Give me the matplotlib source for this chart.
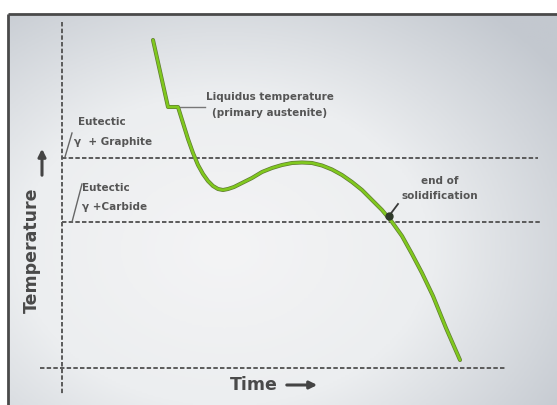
"""
Cooling curve of cast iron: temperature vs time with eutectic levels
"""
import matplotlib
matplotlib.use('Agg')
import matplotlib.pyplot as plt
import matplotlib.patheffects as pe
import numpy as np

plt.rcParams['font.family'] = ['DejaVu Sans']
plt.rcParams['lines.scale_dashes'] = False

# ── data (time / temperature, arbitrary units) ──
time_pts = [91, 106, 116, 121, 126, 131, 136, 141, 146, 151, 156, 161, 166, 172,
            180, 190, 200, 210, 220, 230, 240, 250, 260, 270, 280, 290, 300,
            310, 320, 330, 340, 350, 360, 371, 384, 398]
temp_pts = [328, 261, 261, 245, 229, 215, 203, 194, 187, 182, 179, 178, 179, 181,
            185, 190, 196, 200, 203, 205, 205.5, 205, 202.5, 198.5, 193, 186, 178,
            168, 158, 146, 132, 114, 95, 72, 40, 8]
graphite_level = 210
carbide_level = 146
liquidus_level = 261
solid_end = (327, 152)

W, H = 557, 405
fig = plt.figure(figsize=(W / 100, H / 100), dpi=100)
ax = fig.add_axes([0, 0, 1, 1])
ax.set_xlim(-62, W - 62)
ax.set_ylim(368 - H, 368)
ax.axis('off')

# 背景渐变（中间偏亮，四周灰）
yy, xx = np.mgrid[0:200, 0:280]
r = np.sqrt(((xx - 110) / 210) ** 2 + ((yy - 120) / 160) ** 2)
bg = np.clip(1 - r, 0, 1)
cmap = matplotlib.colors.LinearSegmentedColormap.from_list('bg', ['#c3c8cf', '#eceef0', '#f4f4f5'])
ax.imshow(bg, extent=(8 - 62, W - 62, 368 - H, 368 - 14), cmap=cmap,
          aspect='auto', origin='upper', zorder=0, vmin=0, vmax=1)
# 边框（上、左）
ax.plot([8 - 62, W - 62], [368 - 14, 368 - 14], color='#4a4a4a', lw=2, zorder=1,
        solid_capstyle='butt')
ax.plot([8 - 62, 8 - 62], [368 - 14, 368 - H], color='#4a4a4a', lw=2, zorder=1,
        solid_capstyle='butt')

dash = dict(color='#5a5a5a', lw=1.4, linestyle=(0, (3.2, 1.6)), zorder=2)
ax.plot([0, 0], [346, -27], **dash)
ax.plot([-22, 443], [0, 0], **dash)
ax.plot([0, 476], [graphite_level] * 2, **dash)
ax.plot([0, 478], [carbide_level] * 2, **dash)

# 冷却曲线
ax.plot(time_pts, temp_pts, color='#80c81e', lw=1.9, solid_joinstyle='round',
        solid_capstyle='round', zorder=4,
        path_effects=[pe.Stroke(linewidth=2.9, foreground='#5f7a32'), pe.Normal()])

# 液相线标注
ax.plot([time_pts[2], 143], [liquidus_level] * 2, color='#777777', lw=1, zorder=3)
txt = dict(color='#555555', fontsize=7.5, fontweight='bold')
ax.text(208, 271, 'Liquidus temperature', ha='center', va='center', **txt)
ax.text(208, 255, '(primary austenite)', ha='center', va='center', **txt)

# 共晶标注
ax.plot([3, 10], [graphite_level + 1, 235], color='#666666', lw=1, zorder=3)
ax.text(16, 246, 'Eutectic', ha='left', va='center', **txt)
ax.text(12, 226, 'γ  + Graphite', ha='left', va='center', **txt)
ax.plot([10, 20], [carbide_level, 184], color='#666666', lw=1, zorder=3)
ax.text(20, 180, 'Eutectic', ha='left', va='center', **txt)
ax.text(20, 161, 'γ +Carbide', ha='left', va='center', **txt)

# 凝固结束
ax.plot([solid_end[0], solid_end[0] + 9], [solid_end[1], solid_end[1] + 12],
        color='#3a3a3a', lw=1.3, zorder=5)
ax.plot(*solid_end, 'o', ms=5, color='#2f3a2a', zorder=5)
ax.text(378, 187, 'end of', ha='center', va='center', **txt)
ax.text(378, 172, 'solidification', ha='center', va='center', **txt)

# 坐标轴标题与箭头
ax.text(-30, 118, 'Temperature', rotation=90, ha='center', va='center',
        color='#4a4a4a', fontsize=12.5, fontweight='bold')
ax.annotate('', xy=(-20, 222), xytext=(-20, 190),
            arrowprops=dict(arrowstyle='-|>', color='#444444', lw=2.2, mutation_scale=11))
ax.text(192, -17, 'Time', ha='center', va='center',
        color='#4a4a4a', fontsize=12.5, fontweight='bold')
ax.annotate('', xy=(258, -17), xytext=(222, -17),
            arrowprops=dict(arrowstyle='-|>', color='#444444', lw=2.2, mutation_scale=11))

fig.savefig('out.png', dpi=100)
plt.close(fig)
